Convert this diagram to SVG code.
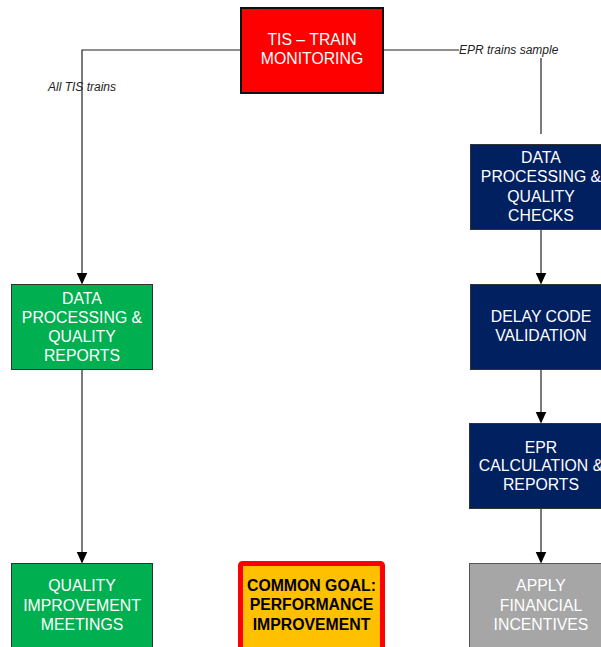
<svg xmlns="http://www.w3.org/2000/svg" width="601" height="647" viewBox="0 0 601 647">
<defs>
<marker id="arr" markerWidth="11" markerHeight="13" refX="10.5" refY="5.5" orient="auto" markerUnits="userSpaceOnUse">
<path d="M0,0 L12,5.5 L0,11 Z" fill="#000"/>
</marker>
</defs>
<style>
.t{font-family:"Liberation Sans",Arial,sans-serif;font-size:15.8px;text-anchor:middle;fill:#fff}
.b{font-family:"Liberation Sans",Arial,sans-serif;font-size:15.8px;font-weight:bold;text-anchor:middle;fill:#000}
.lab{font-family:"Liberation Sans",Arial,sans-serif;font-size:12px;font-style:italic;fill:#222}
.ln{fill:none;stroke:#222;stroke-width:1.2}
.green{fill:#00B050;stroke:#333;stroke-width:1}
.navy{fill:#002060;stroke:#333;stroke-width:1}
.gray{fill:#A6A6A6;stroke:#555;stroke-width:1}
</style>
<rect width="601" height="647" fill="#fff"/>
<g id="connectors">
<path class="ln" d="M241,50 H82 V283" marker-end="url(#arr)"/>
<path class="ln" d="M383,50 H459"/>
<path class="ln" d="M541,58 V134"/>
<path class="ln" d="M82,369 V562" marker-end="url(#arr)"/>
<path class="ln" d="M541,230 V283" marker-end="url(#arr)"/>
<path class="ln" d="M541,369 V422" marker-end="url(#arr)"/>
<path class="ln" d="M541,509 V562" marker-end="url(#arr)"/>
<text class="lab" x="48" y="91">All TIS trains</text>
<text class="lab" x="459" y="54">EPR trains sample</text>
</g>
<g id="tis">
<rect x="241" y="8" width="142" height="85" fill="#FF0000" stroke="#111" stroke-width="2"/>
<text class="t" x="312" y="45">TIS – TRAIN</text>
<text class="t" x="312" y="64">MONITORING</text>
</g>
<g id="dpqr">
<rect class="green" x="11.5" y="284.5" width="141" height="85"/>
<text class="t" x="82" y="303.5">DATA</text>
<text class="t" x="82" y="322.5">PROCESSING &amp;</text>
<text class="t" x="82" y="341.5">QUALITY</text>
<text class="t" x="82" y="360.5">REPORTS</text>
</g>
<g id="qim">
<rect class="green" x="11.5" y="563.5" width="141" height="90"/>
<text class="t" x="82" y="591">QUALITY</text>
<text class="t" x="82" y="610.5">IMPROVEMENT</text>
<text class="t" x="82" y="630">MEETINGS</text>
</g>
<g id="dpqc">
<rect class="navy" x="470.5" y="144.5" width="142" height="85"/>
<text class="t" x="541" y="163">DATA</text>
<text class="t" x="541" y="182">PROCESSING &amp;</text>
<text class="t" x="541" y="201.5">QUALITY</text>
<text class="t" x="541" y="220.5">CHECKS</text>
</g>
<g id="dcv">
<rect class="navy" x="470.5" y="284.5" width="142" height="85"/>
<text class="t" x="541" y="322">DELAY CODE</text>
<text class="t" x="541" y="341">VALIDATION</text>
</g>
<g id="epr">
<rect class="navy" x="469.5" y="423.5" width="142" height="85"/>
<text class="t" x="541" y="452.5">EPR</text>
<text class="t" x="541" y="471">CALCULATION &amp;</text>
<text class="t" x="541" y="490">REPORTS</text>
</g>
<g id="afi">
<rect class="gray" x="469.5" y="563.5" width="142" height="90"/>
<text class="t" x="541" y="591">APPLY</text>
<text class="t" x="541" y="610.5">FINANCIAL</text>
<text class="t" x="541" y="630">INCENTIVES</text>
</g>
<g id="goal">
<rect x="240.5" y="563.5" width="142" height="95" rx="2" fill="#FFC000" stroke="#FF0000" stroke-width="5"/>
<text class="b" x="311.5" y="590.5">COMMON GOAL:</text>
<text class="b" x="311.5" y="610">PERFORMANCE</text>
<text class="b" x="311.5" y="629.5">IMPROVEMENT</text>
</g>
</svg>
